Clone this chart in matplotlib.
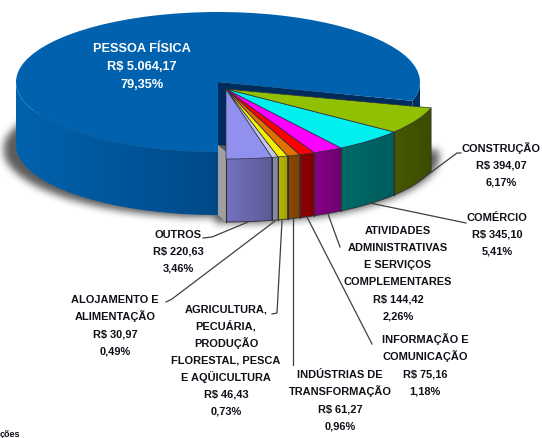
import numpy as np
import matplotlib
matplotlib.use('Agg')
import matplotlib.pyplot as plt
from matplotlib.colors import to_rgb
from matplotlib.patches import Polygon
from matplotlib.transforms import Affine2D

# counter-clockwise from the bottom of the pie, PESSOA FISICA last
names = ['OUTROS', 'ALOJAMENTO E\nALIMENTAÇÃO',
         'AGRICULTURA,\nPECUÁRIA,\nPRODUÇÃO\nFLORESTAL, PESCA\nE AQÜICULTURA',
         'INDÚSTRIAS DE\nTRANSFORMAÇÃO', 'INFORMAÇÃO E\nCOMUNICAÇÃO',
         'ATIVIDADES\nADMINISTRATIVAS\nE SERVIÇOS\nCOMPLEMENTARES',
         'COMÉRCIO', 'CONSTRUÇÃO', 'PESSOA FÍSICA']
values = [220.63, 30.97, 46.43, 61.27, 75.16, 144.42, 345.10, 394.07, 5064.17]
value_labels = ['R$ 220,63', 'R$ 30,97', 'R$ 46,43', 'R$ 61,27', 'R$ 75,16',
                'R$ 144,42', 'R$ 345,10', 'R$ 394,07', 'R$ 5.064,17']
pct_labels = ['3,46%', '0,49%', '0,73%', '0,96%', '1,18%', '2,26%', '5,41%', '6,17%', '79,35%']

top_colors = ['#9090EE', '#C4C4E6', '#F4F000', '#E07000', '#FF0000', '#FF00FF', '#00F0F0', '#90C000', '#0062AE']
side_left = ['#7472C0', '#8C8CB0', '#B8B800', '#8C4800', '#900000', '#880088', '#006A6A', '#465800']
side_right = ['#5E5A98', '#8080A0', '#A0A000', '#784000', '#800000', '#700070', '#005C5C', '#3C4C00']

label_x = [178, 115, 226, 340, 425, 398, 497, 501, 142]
label_y = [251, 325, 360, 400, 365, 273, 234, 165, 66]

leader_x = [[248, 212, 203], [275, 172, 166], [282, 277, 272], [293, 293],
            [307, 372], [328, 340], [370, 466], [418, 457, 461]]
leader_y = [[223, 238, 239], [222, 300, 303], [222, 314, 315], [220, 366],
            [218, 345], [215, 248], [204, 224], [183, 154, 154]]

# pie geometry, in pixels
cx_small, cy_small, rx_small = 226, 90, 213
cx_big, cy_big, rx_big = 218, 83, 202
ry = 70
depth = 63

W, H = 542, 439
fig = plt.figure(figsize=(W / 100, H / 100), dpi=100)
ax = fig.add_axes([0, 0, 1, 1])

fractions = np.array(values) / sum(values)
edges = -90 + 360 * np.concatenate([[0], np.cumsum(fractions)])


def rim(start, end, cx, cy, rx, n=60):
    t = np.radians(np.linspace(start, end, n))
    return cx + rx * np.cos(t), cy - ry * np.sin(t)


def gradient_face(xs, ys, left, right, zorder):
    # side wall: polygon clipped onto a horizontal colour ramp
    xs, ys = np.asarray(xs), np.asarray(ys)
    ramp = np.linspace(to_rgb(left), to_rgb(right), 64)[None, :, :]
    im = ax.imshow(ramp, extent=[xs.min(), xs.max(), ys.max(), ys.min()],
                   aspect='auto', zorder=zorder, interpolation='bilinear')
    poly = Polygon(np.column_stack([xs, ys]), closed=True, fc='none', ec='none',
                   transform=ax.transData)
    ax.add_patch(poly)
    im.set_clip_path(poly)


# soft shadow under the whole pie
yy, xx = np.mgrid[0:H, 0:W]
mask = ((xx - 214) / 211.0) ** 2 + ((yy - 150) / 68.0) ** 2 < 1
mask2 = ((xx - 226) / 213.0) ** 2 + ((yy - 156) / 68.0) ** 2 < 1
shadow = (mask | (mask2 & (yy > 150) & (xx > 214))).astype(float)
kernel = np.ones(9) / 9
for i in range(2):
    shadow = np.apply_along_axis(lambda r: np.convolve(r, kernel, mode='same'), 0, shadow)
    shadow = np.apply_along_axis(lambda r: np.convolve(r, kernel, mode='same'), 1, shadow)
rgba = np.zeros((H, W, 4))
rgba[..., :3] = 0.25
rgba[..., 3] = shadow * 0.85
ax.imshow(rgba, extent=[0, W, H, 0], aspect='auto', zorder=1)

# PESSOA FISICA: side wall, cut face and top
left_x, left_y = rim(180, 270, cx_big, cy_big, rx_big, 80)
gradient_face(np.r_[left_x, left_x[::-1]], np.r_[left_y, left_y[::-1] + depth],
              '#0062AE', '#004A88', 2)

end_x, end_y = rim(edges[8], 0, cx_big, cy_big, rx_big, 12)
ax.add_patch(Polygon(np.column_stack([np.r_[end_x, end_x[::-1]], np.r_[end_y, end_y[::-1] + depth]]),
                     fc='#003060', ec='none', zorder=2))
ax.add_patch(Polygon([[cx_big, cy_big], [end_x[0], end_y[0]], [end_x[0], end_y[0] + depth],
                      [cx_big, cy_big + depth]], fc='#002C5C', ec='none', zorder=2))
ax.add_patch(Polygon([[cx_big, cy_big + depth], [cx_small, cy_small + depth],
                      [cx_small, cy_small + ry + depth], [cx_big, cy_big + ry + depth]],
                     fc='#A0A0A0', ec='none', zorder=2))

big_w = ax.pie([fractions[8]], colors=top_colors[8:], startangle=edges[8], normalize=False,
               wedgeprops={'lw': 0, 'zorder': 3})[0][0]
big_w.set_transform(Affine2D().scale(rx_big, -ry).translate(cx_big, cy_big) + ax.transData)

# the small slices, pulled out of the pie
for i in range(8):
    sx, sy = rim(edges[i], edges[i + 1], cx_small, cy_small, rx_small, 30)
    gradient_face(np.r_[sx, sx[::-1]], np.r_[sy, sy[::-1] + depth], side_left[i], side_right[i], 4)
    ax.plot(np.r_[sx, sx[-1]], np.r_[sy + depth, sy[-1]], color='#303030', lw=0.6, zorder=4.2)
    ax.plot([sx[0], sx[0]], [sy[0], sy[0] + depth], color='#303030', lw=0.8, zorder=4.2)

small_w = ax.pie(fractions[:8], colors=top_colors[:8], startangle=edges[0], normalize=False,
                 wedgeprops={'lw': 0.5, 'ec': '#303040', 'zorder': 5})[0]
for w in small_w:
    w.set_transform(Affine2D().scale(rx_small, -ry).translate(cx_small, cy_small) + ax.transData)

for lx, ly in zip(leader_x, leader_y):
    ax.plot(lx, ly, color='#404040', lw=0.9, zorder=6)

# one text per line so the accents do not push the lines apart
for i in range(9):
    lines = (names[i] + '\n' + value_labels[i] + '\n' + pct_labels[i]).split('\n')
    step = 18.5 if i == 8 else 17
    size = 9.2 if i == 8 else 7.9
    col = 'white' if i == 8 else '#101018'
    for k, line in enumerate(lines):
        ax.text(label_x[i], label_y[i] + (k - (len(lines) - 1) / 2) * step + 4, line,
                ha='center', va='baseline', color=col, fontsize=size, fontweight='bold',
                family='Liberation Sans', zorder=7)
ax.text(0, 439, 'ções', ha='left', va='bottom', fontsize=6.5, fontweight='bold',
        family='Liberation Sans', color='#101018', zorder=7)

ax.set_aspect('auto')
ax.set_xlim(0, W)
ax.set_ylim(H, 0)
ax.axis('off')
fig.savefig('out.png', dpi=100)
